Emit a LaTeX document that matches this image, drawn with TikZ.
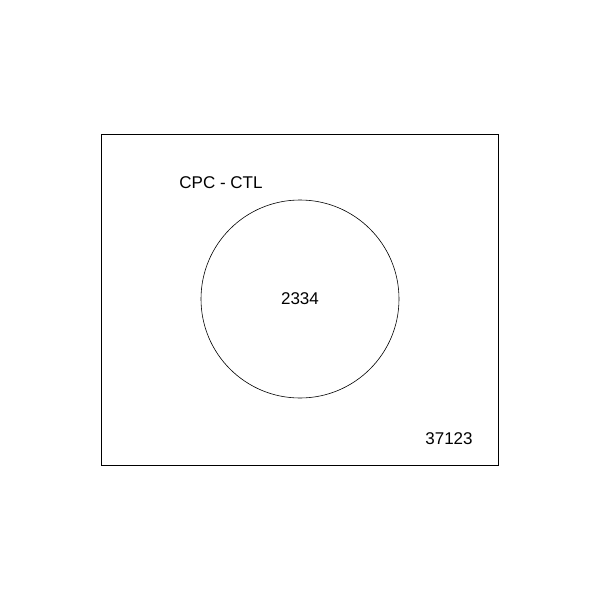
\documentclass[tikz,border=0pt]{standalone}
\usepackage{fontspec}
\setmainfont{Liberation Sans}
\begin{document}
\begin{tikzpicture}[x=1pt,y=-1pt,
  lbl/.style={font=\fontsize{17}{20}\selectfont, inner sep=0pt},
  frame/.style={draw=black, line width=0.6pt}]
\useasboundingbox (0,0) rectangle (600,600);
\node[frame, minimum width=397pt, minimum height=331pt, inner sep=0pt] (box) at (299.5,299.5) {};
\node[frame, circle, minimum size=198pt, inner sep=0pt] (circ) at (300,299) {};
\node[lbl] (title) at (221,182.5) {CPC - CTL};
\node[lbl] (inner) at (300,298.5) {2334};
\node[lbl] (outer) at (449,438.5) {37123};
\end{tikzpicture}
\end{document}
